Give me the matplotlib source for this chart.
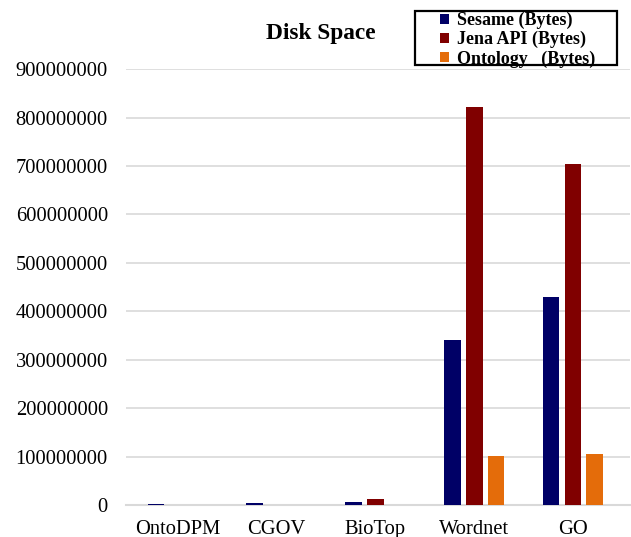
import numpy as np
import matplotlib.pyplot as plt
from matplotlib.patches import Rectangle

plt.rcParams['font.family'] = ['Liberation Serif', 'DejaVu Serif']

# Values (bytes)
ontologies = ["OntoDPM", "CGOV", "BioTop", "Wordnet", "GO"]
sesame = [3000000, 5500000, 7500000, 341000000, 429000000]
jena = [300000, 400000, 12500000, 821000000, 705000000]
ontology = [100000, 150000, 300000, 101000000, 107000000]
series_names = ["Sesame (Bytes)", "Jena API (Bytes)", "Ontology   (Bytes)"]
colors = ["#000066", "#800000", "#E46C0A"]

fig = plt.figure(figsize=(6.31, 5.37), dpi=100)
ax = fig.add_axes([0.1997, 0.0587, 0.7983, 0.8128])

x = np.arange(len(ontologies))
offset = 0.222
width = 0.17
for i, (vals, name, c) in enumerate(zip([sesame, jena, ontology], series_names, colors)):
    ax.bar(x + (i - 1) * offset, vals, width, color=c, label=name, zorder=3)

ax.set_xlim(-0.525, 4.575)
ax.set_ylim(0, 900000000)
ax.set_yticks(np.arange(0, 900000001, 100000000))
ax.set_yticklabels([str(v) for v in range(0, 900000001, 100000000)])
ax.set_xticks(x)
ax.set_xticklabels(ontologies)
ax.tick_params(axis='both', length=0, labelsize=14.8)
ax.tick_params(axis='y', pad=13)
ax.tick_params(axis='x', pad=10.5)

ax.grid(axis='y', color='#d9d9d9', linewidth=1.2, zorder=0)
for s in ['left', 'right', 'top']:
    ax.spines[s].set_visible(False)
ax.spines['bottom'].set_color('#d9d9d9')
ax.spines['bottom'].set_linewidth(1.5)

fig.text(0.508, 0.938, "Disk Space", ha='center', va='center',
         fontsize=16.8, fontweight='bold')

# legend without its own frame; box drawn separately (wider padding on the left)
leg = fig.legend(loc='upper left', bbox_to_anchor=(0.694, 0.981),
                 prop={'weight': 'bold', 'size': 13}, frameon=False,
                 handlelength=0.5, handleheight=0.5, handletextpad=0.45,
                 labelspacing=0.1, borderpad=0.1, borderaxespad=0)
fig.patches.append(Rectangle((415 / 631, 1 - 65 / 537), 202 / 631, 54 / 537,
                             transform=fig.transFigure, fill=False,
                             edgecolor='black', linewidth=1.6))

fig.savefig("out.png", dpi=100)
